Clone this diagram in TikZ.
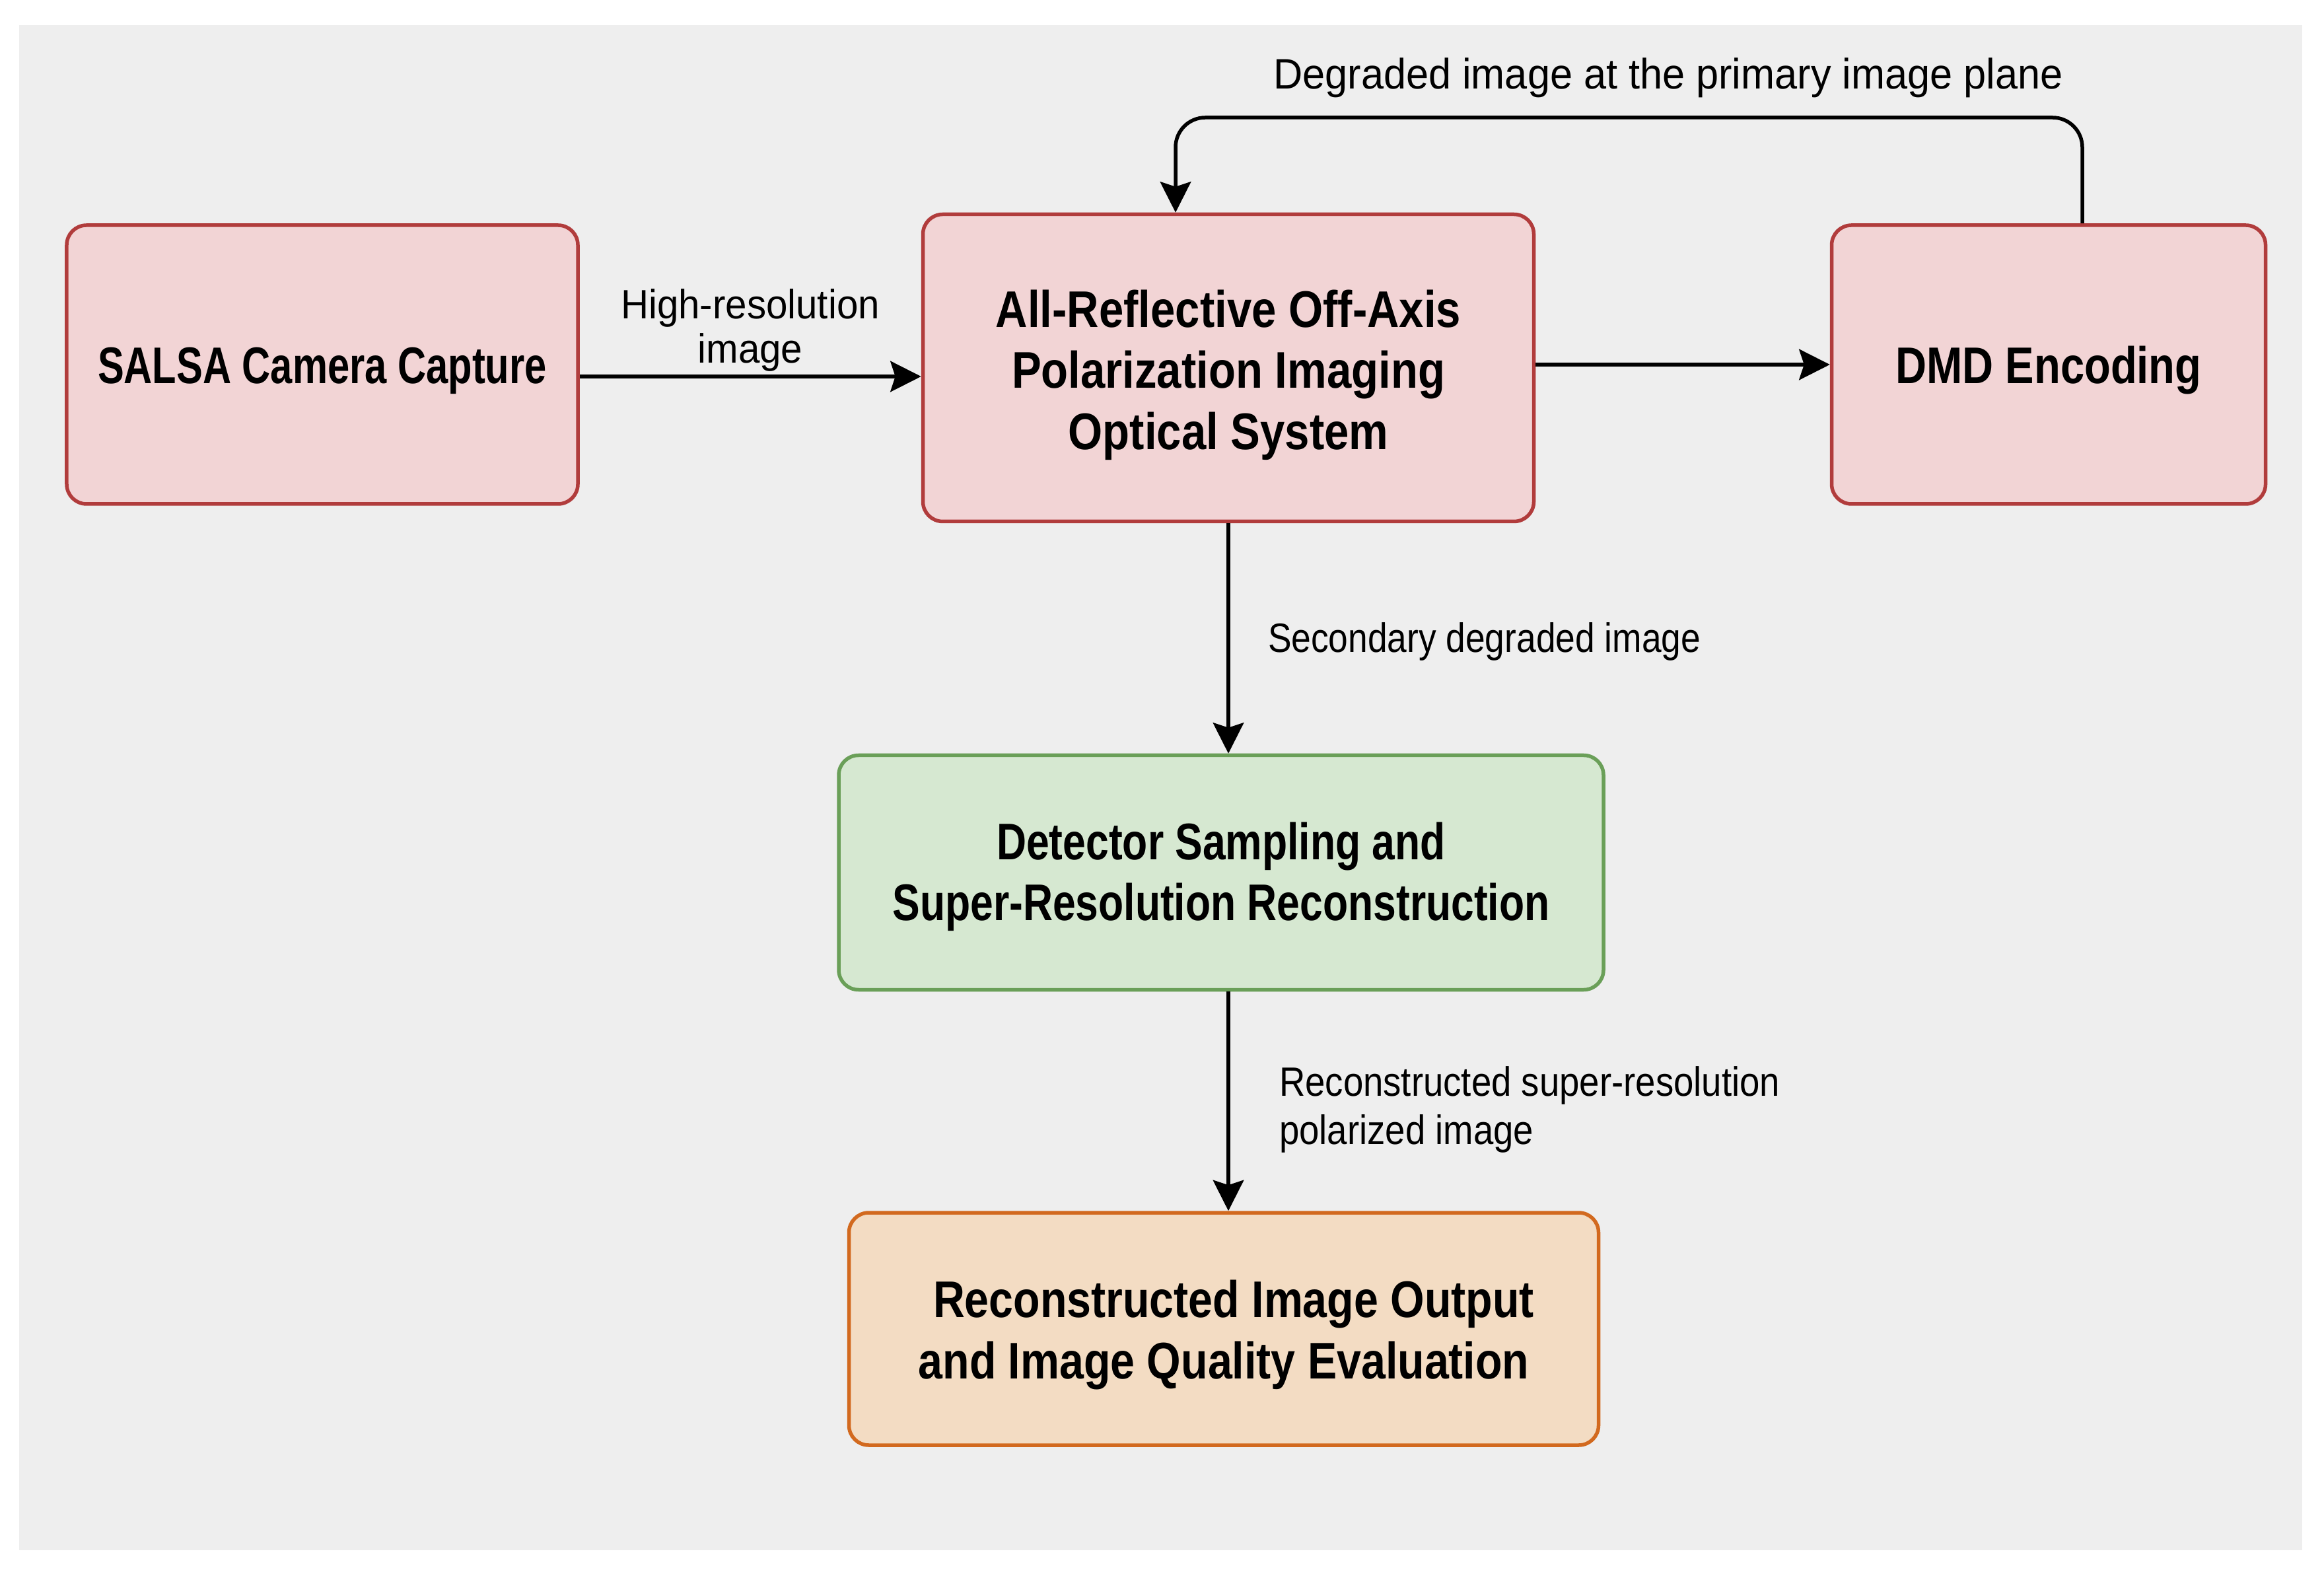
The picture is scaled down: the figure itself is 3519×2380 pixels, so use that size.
\documentclass[tikz,border=0pt]{standalone}
\usepackage{fontspec}
\usepackage{tikz}
\usetikzlibrary{arrows.meta}
\newfontfamily\boxfont{Liberation Sans}
\newfontfamily\lblfont{Liberation Sans}
\newcommand{\linelift}[1]{\rule{0pt}{#1}}
\definecolor{bggray}{HTML}{EEEEEE}
\definecolor{pinkfill}{HTML}{F2D4D5}
\definecolor{pinkline}{HTML}{B13C3C}
\definecolor{greenfill}{HTML}{D6E8D1}
\definecolor{greenline}{HTML}{6A9F58}
\definecolor{orangefill}{HTML}{F3DCC3}
\definecolor{orangeline}{HTML}{D2691E}

\begin{document}
\begin{tikzpicture}[x=0.2pt,y=0.2pt,yscale=-1,xscale=1,
  block/.style={draw, rounded corners=6pt, line width=1.1pt, align=center, inner sep=0pt,
    font=\boxfont\bfseries\addfontfeatures{FakeStretch=#1}\fontsize{15.6pt}{18.5pt}\selectfont},
  redblock/.style={block=#1, draw=pinkline, fill=pinkfill},
  greenblock/.style={block=#1, draw=greenline, fill=greenfill},
  orangeblock/.style={block=#1, draw=orangeline, fill=orangefill},
  lbl/.style={inner sep=0pt, font=\lblfont\addfontfeatures{FakeStretch=#1}\fontsize{12.4pt}{14.5pt}\selectfont},
  flow/.style={line width=1.1pt, -{Stealth[length=9.3pt,width=9.3pt,inset=1.5pt]}}]
\useasboundingbox (0,0) rectangle (3519,2380);
%Background
\fill[bggray] (29,38) rectangle (3486,2347);

%Rounded Rect
\node[redblock=0.765, minimum width=154.8pt, minimum height=84.4pt] (salsa) at (488,552) {\linelift{14.6pt}SALSA Camera Capture};
%Rounded Rect
\node[redblock=0.86, minimum width=185pt, minimum height=93pt] (optsys) at (1860,557) {\linelift{15.6pt}All-Reflective Off-Axis\\Polarization Imaging\\Optical System};
%Rounded Rect
\node[redblock=0.835, minimum width=131.4pt, minimum height=84.4pt] (dmd) at (3102,552) {\linelift{14.6pt}DMD Encoding};
%Rounded Rect
\node[greenblock=0.8, minimum width=231.6pt, minimum height=71pt] (detect) at (1849,1321) {\linelift{13.8pt}Detector Sampling and\\Super-Resolution Reconstruction};
%Rounded Rect
\node[orangeblock=0.85, minimum width=227pt, minimum height=70.4pt] (output) at (1853,2012) {\linelift{15pt}\hspace*{6pt}Reconstructed Image Output\\and Image Quality Evaluation};

%Straight Lines
\draw[flow] ([yshift=3.6pt]salsa.east) -- ([yshift=3.6pt]salsa.east -| optsys.west);
%Straight Lines
\draw[flow] (optsys.east |- dmd.west) -- (dmd.west);
%Feedback Line
\coordinate (loopcorner) at (1780,178);
\draw[flow, rounded corners=9pt] ([xshift=10.2pt]dmd.north) |- (loopcorner) -- ([xshift=-16pt]optsys.north);
%Straight Lines
\draw[flow] (optsys.south) -- (optsys.south |- detect.north);
%Straight Lines
\draw[flow] (optsys.south |- detect.south) -- (optsys.south |- output.north);

% Text Node
\node[lbl=0.94, align=center] (hireslbl) at (1136,500) {High-resolution\\[-1pt]image};
% Text Node
\node[lbl=0.95, anchor=base, font=\lblfont\addfontfeatures{FakeStretch=0.95}\fontsize{12.9pt}{14.5pt}\selectfont] (degrlbl) at (2526,135) {Degraded image at the primary image plane};
% Text Node
\node[lbl=0.86, anchor=base west] (seclbl) at (1919,988) {Secondary degraded image};
% Text Node
\node[lbl=0.88, align=left, anchor=west] (reclbl) at (1936,1680) {Reconstructed super-resolution\\polarized image};

\end{tikzpicture}
\end{document}
